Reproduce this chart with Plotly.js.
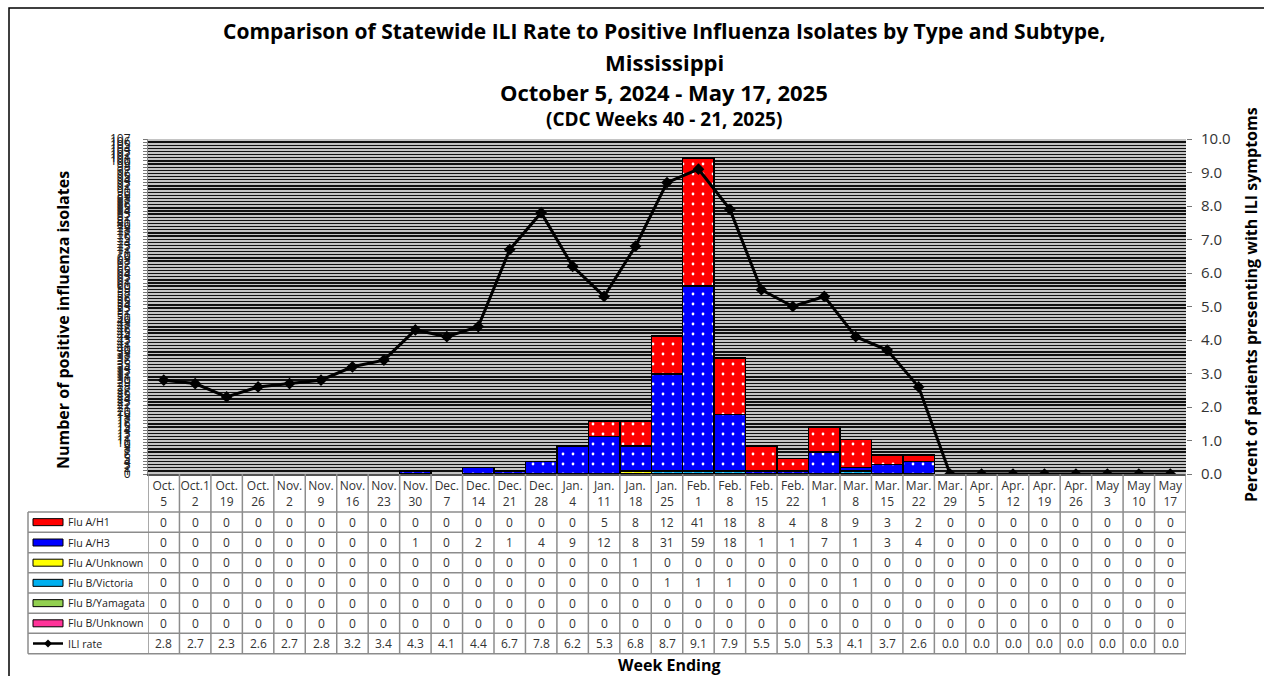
<!DOCTYPE html>
<html>
<head>
<meta charset="utf-8">
<script src="https://cdn.plot.ly/plotly-3.0.1.min.js"></script>
<style>html,body{margin:0;padding:0;background:#fff;}#chart{width:1264px;height:676px;}</style>
</head>
<body>
<div id="chart"></div>
<script>
// ---- DATA ----
const weeks = ["Oct. 5","Oct. 12","Oct. 19","Oct. 26","Nov. 2","Nov. 9","Nov. 16","Nov. 23","Nov. 30","Dec. 7","Dec. 14","Dec. 21","Dec. 28","Jan. 4","Jan. 11","Jan. 18","Jan. 25","Feb. 1","Feb. 8","Feb. 15","Feb. 22","Mar. 1","Mar. 8","Mar. 15","Mar. 22","Mar. 29","Apr. 5","Apr. 12","Apr. 19","Apr. 26","May 3","May 10","May 17"];
const weekLabels = ["Oct.<br>5","Oct.1<br>2","Oct.<br>19","Oct.<br>26","Nov.<br>2","Nov.<br>9","Nov.<br>16","Nov.<br>23","Nov.<br>30","Dec.<br>7","Dec.<br>14","Dec.<br>21","Dec.<br>28","Jan.<br>4","Jan.<br>11","Jan.<br>18","Jan.<br>25","Feb.<br>1","Feb.<br>8","Feb.<br>15","Feb.<br>22","Mar.<br>1","Mar.<br>8","Mar.<br>15","Mar.<br>22","Mar.<br>29","Apr.<br>5","Apr.<br>12","Apr.<br>19","Apr.<br>26","May<br>3","May<br>10","May<br>17"];
const fluAH1 =      [0,0,0,0,0,0,0,0,0,0,0,0,0,0,5,8,12,41,18,8,4,8,9,3,2,0,0,0,0,0,0,0,0];
const fluAH3 =      [0,0,0,0,0,0,0,0,1,0,2,1,4,9,12,8,31,59,18,1,1,7,1,3,4,0,0,0,0,0,0,0,0];
const fluAUnknown = [0,0,0,0,0,0,0,0,0,0,0,0,0,0,0,1,0,0,0,0,0,0,0,0,0,0,0,0,0,0,0,0,0];
const fluBVictoria =[0,0,0,0,0,0,0,0,0,0,0,0,0,0,0,0,1,1,1,0,0,0,1,0,0,0,0,0,0,0,0,0,0];
const fluBYamagata =[0,0,0,0,0,0,0,0,0,0,0,0,0,0,0,0,0,0,0,0,0,0,0,0,0,0,0,0,0,0,0,0,0];
const fluBUnknown = [0,0,0,0,0,0,0,0,0,0,0,0,0,0,0,0,0,0,0,0,0,0,0,0,0,0,0,0,0,0,0,0,0];
const iliRate = [2.8,2.7,2.3,2.6,2.7,2.8,3.2,3.4,4.3,4.1,4.4,6.7,7.8,6.2,5.3,6.8,8.7,9.1,7.9,5.5,5.0,5.3,4.1,3.7,2.6,0.0,0.0,0.0,0.0,0.0,0.0,0.0,0.0];

// ---- LAYOUT GEOMETRY (pixels) ----
const W = 1264, H = 676;
const M = {l:148, r:78, t:139, b:202};
const PW = W - M.l - M.r, PH = H - M.t - M.b;
const pxX = px => (px - M.l) / PW;
const pxY = py => (H - M.b - py) / PH;
const FONT = "Open Sans, Noto Sans, sans-serif";

const series = [
  {name:"Flu B/Unknown", vals:fluBUnknown, color:"#ff3399"},
  {name:"Flu B/Yamagata", vals:fluBYamagata, color:"#92d050"},
  {name:"Flu B/Victoria", vals:fluBVictoria, color:"#00b0f0"},
  {name:"Flu A/Unknown", vals:fluAUnknown, color:"#ffff00"},
  {name:"Flu A/H3", vals:fluAH3, color:"#0000ff"},
  {name:"Flu A/H1", vals:fluAH1, color:"#ff0000"}
];

const traces = series.map(s => ({
  type:"bar", name:s.name, x:weeks, y:s.vals.map(v => v === 0 ? null : v),
  width:1,
  marker:{color:s.color, line:{color:"#000", width:1.5},
          pattern:{shape:".", fgcolor:"#ffffff", bgcolor:s.color, fillmode:"replace", size:10, solidity:0.06}},
  hoverinfo:"x+y+name"
}));
traces.push({
  type:"scatter", mode:"lines+markers", name:"ILI rate", x:weeks, y:iliRate, yaxis:"y2",
  line:{color:"#000", width:3}, marker:{symbol:"diamond", size:9, color:"#000"}
});

// ---- TABLE ----
const rowBounds = [512, 532.3, 552.7, 572.7, 593, 613.3, 633.3, 653.7];
const tableRows = [
  {name:"Flu A/H1", vals:fluAH1, color:"#ff0000"},
  {name:"Flu A/H3", vals:fluAH3, color:"#0000ff"},
  {name:"Flu A/Unknown", vals:fluAUnknown, color:"#ffff00"},
  {name:"Flu B/Victoria", vals:fluBVictoria, color:"#00b0f0"},
  {name:"Flu B/Yamagata", vals:fluBYamagata, color:"#92d050"},
  {name:"Flu B/Unknown", vals:fluBUnknown, color:"#ff3399"},
  {name:"ILI rate", vals:iliRate.map(v => v.toFixed(1)), color:null}
];
const shapes = [];
const annotations = [];
const gridCol = "#8c8c8c";
rowBounds.forEach(py => shapes.push({type:"line", xref:"paper", yref:"paper", x0:pxX(28), x1:1, y0:pxY(py), y1:pxY(py), line:{color:gridCol, width:1.5}, layer:"above"}));
for (let i = 0; i <= weeks.length; i++) {
  shapes.push({type:"line", xref:"x", yref:"paper", x0:i-0.5, x1:i-0.5, y0:pxY(474), y1:pxY(rowBounds[rowBounds.length-1]), line:{color:gridCol, width:1.5}, layer:"above"});
}
shapes.push({type:"line", xref:"paper", yref:"paper", x0:pxX(28), x1:pxX(28), y0:pxY(512), y1:pxY(653.7), line:{color:gridCol, width:1.5}});
tableRows.forEach((r, k) => {
  const yc = (rowBounds[k] + rowBounds[k+1]) / 2;
  r.vals.forEach((v, i) => annotations.push({xref:"x", yref:"paper", x:i, y:pxY(yc), text:String(v), showarrow:false, font:{family:FONT, size:12, color:"#333"}, xanchor:"center", yanchor:"middle"}));
  annotations.push({xref:"paper", yref:"paper", x:pxX(66), y:pxY(yc), text:r.name, showarrow:false, xanchor:"left", yanchor:"middle", font:{family:FONT, size:10.6, color:"#222"}});
  if (r.color) {
    shapes.push({type:"rect", xref:"paper", yref:"paper", x0:pxX(33), x1:pxX(63), y0:pxY(yc-3.5), y1:pxY(yc+3.5), fillcolor:r.color, line:{color:"#000", width:1}});
  } else {
    shapes.push({type:"line", xref:"paper", yref:"paper", x0:pxX(33), x1:pxX(63), y0:pxY(yc), y1:pxY(yc), line:{color:"#000", width:2.5}});
    shapes.push({type:"path", xref:"paper", yref:"paper", path:`M ${pxX(44)} ${pxY(yc)} L ${pxX(48)} ${pxY(yc-4)} L ${pxX(52)} ${pxY(yc)} L ${pxX(48)} ${pxY(yc+4)} Z`, fillcolor:"#000", line:{width:0}});
  }
});

shapes.push({type:"rect", xref:"paper", yref:"paper", x0:pxX(9), x1:pxX(1275), y0:pxY(8), y1:pxY(690), line:{color:"#000", width:1.5}});

const titleLines = [
  {t:"Comparison of Statewide ILI Rate to Positive Influenza Isolates by Type and Subtype,", y:31, s:21},
  {t:"Mississippi", y:62, s:22},
  {t:"October 5, 2024 - May 17, 2025", y:92, s:22},
  {t:"(CDC Weeks 40 - 21, 2025)", y:119, s:19}
];
titleLines.forEach(l => annotations.push({xref:"paper", yref:"paper", x:pxX(664), y:pxY(l.y), text:"<b>"+l.t+"</b>", showarrow:false, xanchor:"center", yanchor:"middle", font:{family:FONT, size:l.s, color:"#000"}}));
annotations.push({xref:"paper", yref:"paper", x:pxX(63), y:pxY(320), text:"<b>Number of positive influenza isolates</b>", textangle:-90, showarrow:false, xanchor:"center", yanchor:"middle", font:{family:FONT, size:16, color:"#000"}});
annotations.push({xref:"paper", yref:"paper", x:pxX(1251), y:pxY(305), text:"<b>Percent of patients presenting with ILI symptoms</b>", textangle:-90, showarrow:false, xanchor:"center", yanchor:"middle", font:{family:FONT, size:16, color:"#000"}});
annotations.push({xref:"paper", yref:"paper", x:pxX(669), y:pxY(665), text:"<b>Week Ending</b>", showarrow:false, xanchor:"center", yanchor:"middle", font:{family:FONT, size:16, color:"#000"}});

const layout = {
  width:W, height:H, margin:M,
  paper_bgcolor:"#fff", plot_bgcolor:"#c4c4c4",
  barmode:"stack", bargap:0, showlegend:false,
  font:{family:FONT},
  xaxis:{type:"category", categoryorder:"array", categoryarray:weeks, range:[-0.5, weeks.length-0.5],
         tickmode:"array", tickvals:weeks, ticktext:weekLabels, ticks:"", showgrid:false,
         tickfont:{family:FONT, size:12, color:"#333"}, showline:true, linecolor:"#555", linewidth:1.5, zeroline:false},
  yaxis:{range:[0,107], dtick:1, tick0:0, ticks:"outside", ticklen:4, tickcolor:"#777",
         showgrid:true, gridcolor:"#111", gridwidth:1.3, zeroline:false, showline:true, linecolor:"#888",
         ticklabelstandoff:10,
         tickfont:{family:FONT, size:12, color:"#222"}},
  yaxis2:{overlaying:"y", side:"right", range:[0,10], dtick:1, tick0:0, tickformat:".1f",
          ticks:"outside", ticklen:5, tickcolor:"#777", showgrid:false, zeroline:false, showline:false,
          ticklabelstandoff:6,
          tickfont:{family:FONT, size:15, color:"#333"}},
  shapes:shapes, annotations:annotations
};
Plotly.newPlot("chart", traces, layout, {displayModeBar:false, staticPlot:true});
</script>
</body>
</html>
